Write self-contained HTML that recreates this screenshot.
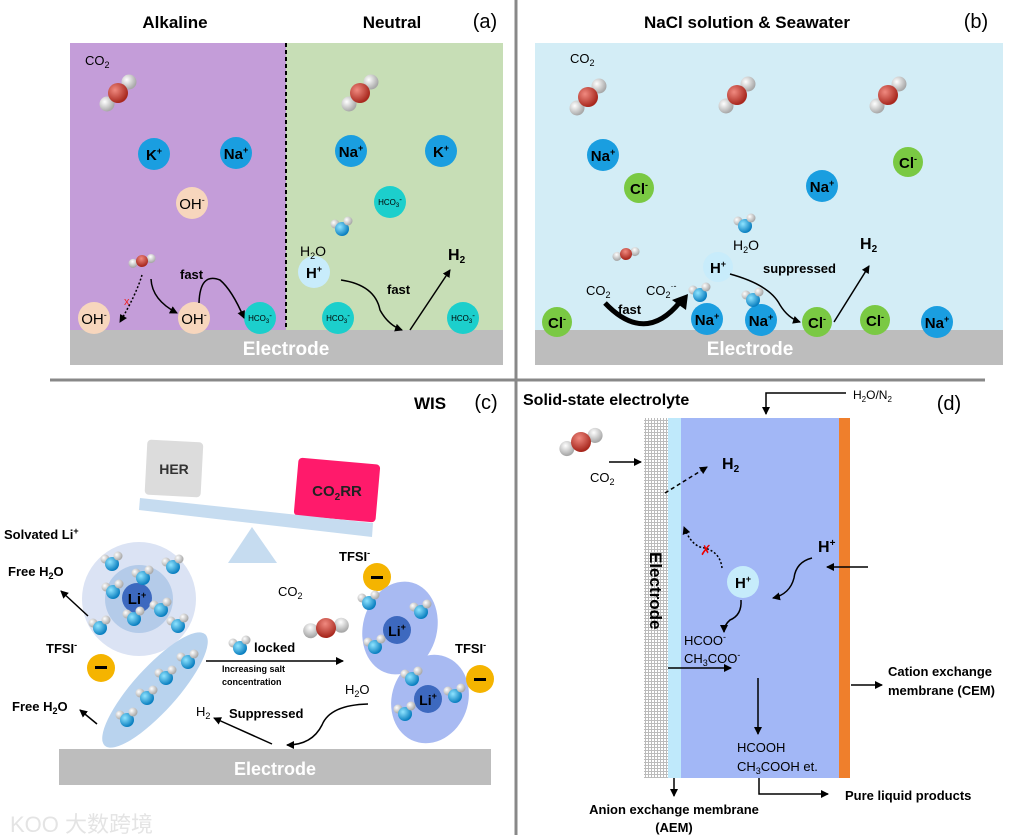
<!DOCTYPE html>
<html><head><meta charset="utf-8"><style>
html,body{margin:0;padding:0;background:#fff;}
svg{display:block;font-family:"Liberation Sans",Arial,sans-serif;}
.b{font-weight:bold;}
</style></head><body>
<svg width="1019" height="839" viewBox="0 0 1019 839" xmlns="http://www.w3.org/2000/svg">
<defs>
<radialGradient id="gr" cx="35%" cy="35%" r="65%"><stop offset="0" stop-color="#f08a80"/><stop offset="1" stop-color="#a8281e"/></radialGradient>
<radialGradient id="gw" cx="35%" cy="35%" r="65%"><stop offset="0" stop-color="#ffffff"/><stop offset="1" stop-color="#a8a8a8"/></radialGradient>
<radialGradient id="gb" cx="35%" cy="35%" r="65%"><stop offset="0" stop-color="#8fe4ff"/><stop offset="1" stop-color="#0a7fc0"/></radialGradient>
<g id="co2"><circle cx="-11" cy="11" r="7.5" fill="url(#gw)"/><circle cx="11" cy="-11" r="7.5" fill="url(#gw)"/><circle cx="0" cy="0" r="10" fill="url(#gr)"/></g>
<g id="h2o"><circle cx="-7" cy="-3" r="4.5" fill="url(#gw)"/><circle cx="0" cy="2" r="7" fill="url(#gb)"/><circle cx="6" cy="-6" r="4.5" fill="url(#gw)"/></g>
<marker id="ar" markerWidth="8" markerHeight="8" refX="7" refY="4" orient="auto" markerUnits="userSpaceOnUse"><path d="M0,0 L8,4 L0,8 Z" fill="#000"/></marker>
</defs>

<line x1="516" y1="0" x2="516" y2="835" stroke="#888" stroke-width="3"/>
<line x1="50" y1="380" x2="985" y2="380" stroke="#888" stroke-width="3"/>

<!-- Panel a -->
<text x="175" y="28" class="b" font-size="17" text-anchor="middle">Alkaline</text>
<text x="392" y="28" class="b" font-size="17" text-anchor="middle">Neutral</text>
<text x="485" y="28" font-size="20" text-anchor="middle">(a)</text>
<rect x="70" y="43" width="216" height="288" fill="#c49dd9"/>
<rect x="286" y="43" width="217" height="288" fill="#c7deb6"/>
<line x1="286" y1="43" x2="286" y2="330" stroke="#000" stroke-width="2" stroke-dasharray="4,3"/>
<rect x="70" y="330" width="433" height="35" fill="#bdbdbd"/>
<text x="286" y="355" class="b" font-size="19" fill="#fff" text-anchor="middle">Electrode</text>
<text x="85" y="65" font-size="13">CO<tspan font-size="9" dy="3">2</tspan></text>
<use href="#co2" x="118" y="93"/>
<use href="#co2" x="360" y="93"/>
<g font-weight="bold" text-anchor="middle">
<circle cx="154" cy="154" r="16" fill="#1a9ee0"/><text x="154" y="160" font-size="15">K<tspan font-size="9" dy="-6">+</tspan></text>
<circle cx="236" cy="153" r="16" fill="#1a9ee0"/><text x="236" y="159" font-size="15">Na<tspan font-size="9" dy="-6">+</tspan></text>
<circle cx="192" cy="203" r="16" fill="#f7d6bd"/><text x="192" y="209" font-size="15" font-weight="normal">OH<tspan font-size="9" dy="-6">-</tspan></text>
<circle cx="94" cy="318" r="16" fill="#f7d6bd"/><text x="94" y="324" font-size="15" font-weight="normal">OH<tspan font-size="9" dy="-6">-</tspan></text>
<circle cx="194" cy="318" r="16" fill="#f7d6bd"/><text x="194" y="324" font-size="15" font-weight="normal">OH<tspan font-size="9" dy="-6">-</tspan></text>
<circle cx="260" cy="318" r="16" fill="#1ccfcc"/><text x="260" y="321" font-size="8" font-weight="normal">HCO<tspan font-size="6" dy="2">3</tspan><tspan dy="-5">-</tspan></text>
<circle cx="351" cy="151" r="16" fill="#1a9ee0"/><text x="351" y="157" font-size="15">Na<tspan font-size="9" dy="-6">+</tspan></text>
<circle cx="441" cy="151" r="16" fill="#1a9ee0"/><text x="441" y="157" font-size="15">K<tspan font-size="9" dy="-6">+</tspan></text>
<circle cx="390" cy="202" r="16" fill="#1ccfcc"/><text x="390" y="205" font-size="8" font-weight="normal">HCO<tspan font-size="6" dy="2">3</tspan><tspan dy="-5">-</tspan></text>
<circle cx="338" cy="318" r="16" fill="#1ccfcc"/><text x="338" y="321" font-size="8" font-weight="normal">HCO<tspan font-size="6" dy="2">3</tspan><tspan dy="-5">-</tspan></text>
<circle cx="463" cy="318" r="16" fill="#1ccfcc"/><text x="463" y="321" font-size="8" font-weight="normal">HCO<tspan font-size="6" dy="2">3</tspan><tspan dy="-5">-</tspan></text>
<circle cx="314" cy="272" r="16" fill="#c8ecfb"/><text x="314" y="278" font-size="15">H<tspan font-size="9" dy="-6">+</tspan></text>
</g>
<g transform="translate(142,261) scale(0.6) rotate(30)"><use href="#co2"/></g>
<use href="#h2o" x="342" y="227"/>
<text x="300" y="256" font-size="14">H<tspan font-size="9" dy="3">2</tspan><tspan dy="-3">O</tspan></text>
<text x="180" y="279" class="b" font-size="13">fast</text>
<text x="387" y="294" class="b" font-size="13">fast</text>
<text x="448" y="260" class="b" font-size="16">H<tspan font-size="10" dy="3">2</tspan></text>
<path d="M142,275 Q136,295 120,322" fill="none" stroke="#000" stroke-width="1.5" stroke-dasharray="2,2" marker-end="url(#ar)"/>
<path d="M151,279 Q152,300 177,313" fill="none" stroke="#000" stroke-width="1.5" marker-end="url(#ar)"/>
<path d="M199,303 Q200,272 220,280 Q232,290 244,318" fill="none" stroke="#000" stroke-width="1.5" marker-end="url(#ar)"/>
<path d="M341,280 Q375,285 380,310 Q388,325 402,330" fill="none" stroke="#000" stroke-width="1.5" marker-end="url(#ar)"/>
<line x1="410" y1="330" x2="450" y2="270" stroke="#000" stroke-width="1.5" marker-end="url(#ar)"/>
<text x="124" y="305" fill="#e22" font-size="11">x</text>

<!-- Panel b -->
<text x="747" y="28" class="b" font-size="17" text-anchor="middle">NaCl solution &amp; Seawater</text>
<text x="976" y="28" font-size="20" text-anchor="middle">(b)</text>
<rect x="535" y="43" width="468" height="288" fill="#d3edf6"/>
<rect x="535" y="330" width="468" height="35" fill="#bdbdbd"/>
<text x="750" y="355" class="b" font-size="19" fill="#fff" text-anchor="middle">Electrode</text>
<text x="570" y="63" font-size="13">CO<tspan font-size="9" dy="3">2</tspan></text>
<use href="#co2" x="588" y="97"/><use href="#co2" x="737" y="95"/><use href="#co2" x="888" y="95"/>
<g font-weight="bold" text-anchor="middle">
<circle cx="603" cy="155" r="16" fill="#1a9ee0"/><text x="603" y="161" font-size="15">Na<tspan font-size="9" dy="-6">+</tspan></text>
<circle cx="639" cy="188" r="15" fill="#7ac943"/><text x="639" y="194" font-size="15">Cl<tspan font-size="9" dy="-6">-</tspan></text>
<circle cx="822" cy="186" r="16" fill="#1a9ee0"/><text x="822" y="192" font-size="15">Na<tspan font-size="9" dy="-6">+</tspan></text>
<circle cx="908" cy="162" r="15" fill="#7ac943"/><text x="908" y="168" font-size="15">Cl<tspan font-size="9" dy="-6">-</tspan></text>
<circle cx="557" cy="322" r="15" fill="#7ac943"/><text x="557" y="328" font-size="15">Cl<tspan font-size="9" dy="-6">-</tspan></text>
<circle cx="707" cy="319" r="16" fill="#1a9ee0"/><text x="707" y="325" font-size="15">Na<tspan font-size="9" dy="-6">+</tspan></text>
<circle cx="761" cy="320" r="16" fill="#1a9ee0"/><text x="761" y="326" font-size="15">Na<tspan font-size="9" dy="-6">+</tspan></text>
<circle cx="817" cy="322" r="15" fill="#7ac943"/><text x="817" y="328" font-size="15">Cl<tspan font-size="9" dy="-6">-</tspan></text>
<circle cx="875" cy="320" r="15" fill="#7ac943"/><text x="875" y="326" font-size="15">Cl<tspan font-size="9" dy="-6">-</tspan></text>
<circle cx="937" cy="322" r="16" fill="#1a9ee0"/><text x="937" y="328" font-size="15">Na<tspan font-size="9" dy="-6">+</tspan></text>
<circle cx="718" cy="267" r="15" fill="#c8ecfb"/><text x="718" y="273" font-size="15">H<tspan font-size="9" dy="-6">+</tspan></text>
</g>
<g transform="translate(626,254) scale(0.6) rotate(30)"><use href="#co2"/></g>
<use href="#h2o" x="745" y="224"/><use href="#h2o" x="700" y="293"/><use href="#h2o" x="753" y="298"/>
<text x="733" y="250" font-size="14">H<tspan font-size="9" dy="3">2</tspan><tspan dy="-3">O</tspan></text>
<text x="763" y="273" class="b" font-size="13">suppressed</text>
<text x="860" y="249" class="b" font-size="16">H<tspan font-size="10" dy="3">2</tspan></text>
<text x="586" y="295" font-size="13">CO<tspan font-size="9" dy="3">2</tspan></text>
<text x="646" y="295" font-size="13">CO<tspan font-size="9" dy="3">2</tspan><tspan font-size="9" dy="-9">·-</tspan></text>
<text x="618" y="314" class="b" font-size="13">fast</text>
<path d="M605,303 Q645,345 680,302" fill="none" stroke="#000" stroke-width="5"/>
<path d="M672,300 L688,294 L686,310 Z" fill="#000"/>
<path d="M730,274 Q770,285 780,305 Q788,318 800,322" fill="none" stroke="#000" stroke-width="1.5" marker-end="url(#ar)"/>
<line x1="834" y1="322" x2="869" y2="266" stroke="#000" stroke-width="1.5" marker-end="url(#ar)"/>

<!-- Panel c -->
<text x="430" y="409" class="b" font-size="17" text-anchor="middle">WIS</text>
<text x="486" y="409" font-size="20" text-anchor="middle">(c)</text>
<rect x="146" y="441" width="56" height="55" rx="4" fill="#dcdcdc" transform="rotate(3 174 468)"/>
<text x="174" y="474" class="b" font-size="14" text-anchor="middle" fill="#333">HER</text>
<rect x="296" y="461" width="82" height="58" rx="4" fill="#ff1a6b" transform="rotate(5 337 490)"/>
<text x="337" y="496" class="b" font-size="15" text-anchor="middle" fill="#222">CO<tspan font-size="10" dy="4">2</tspan><tspan dy="-4">RR</tspan></text>
<polygon points="140,498 373,523 372,537 139,510" fill="#c6dcf0"/>
<polygon points="228,563 277,563 252,527" fill="#c6dcf0"/>
<text x="4" y="539" class="b" font-size="13">Solvated Li<tspan font-size="9" dy="-5">+</tspan></text>
<circle cx="139" cy="599" r="57" fill="#dbe3f4"/>
<circle cx="139" cy="599" r="34" fill="#b4cbe9"/>
<circle cx="137" cy="598" r="15" fill="#3d69bf"/>
<text x="137" y="604" class="b" font-size="15" fill="#000" text-anchor="middle">Li<tspan font-size="9" dy="-6">+</tspan></text>
<ellipse cx="155" cy="690" rx="75" ry="22" fill="#b9d3ee" transform="rotate(-48 155 690)"/>
<g><use href="#h2o" x="112" y="562"/><use href="#h2o" x="143" y="576"/><use href="#h2o" x="113" y="590"/><use href="#h2o" x="173" y="565"/><use href="#h2o" x="161" y="608"/><use href="#h2o" x="134" y="617"/><use href="#h2o" x="100" y="626"/><use href="#h2o" x="178" y="624"/>
<use href="#h2o" x="188" y="660"/><use href="#h2o" x="166" y="676"/><use href="#h2o" x="147" y="696"/><use href="#h2o" x="127" y="718"/>
<use href="#h2o" x="240" y="646"/></g>
<text x="8" y="576" class="b" font-size="13">Free H<tspan font-size="9" dy="3">2</tspan><tspan dy="-3">O</tspan></text>
<line x1="88" y1="616" x2="61" y2="591" stroke="#000" stroke-width="1.5" marker-end="url(#ar)"/>
<text x="12" y="711" class="b" font-size="13">Free H<tspan font-size="9" dy="3">2</tspan><tspan dy="-3">O</tspan></text>
<line x1="97" y1="724" x2="80" y2="710" stroke="#000" stroke-width="1.5" marker-end="url(#ar)"/>
<text x="46" y="653" class="b" font-size="13">TFSI<tspan font-size="9" dy="-5">-</tspan></text>
<circle cx="101" cy="668" r="14" fill="#f5b400"/><rect x="95" y="666" width="12" height="3" fill="#000"/>
<text x="254" y="652" class="b" font-size="13">locked</text>
<line x1="206" y1="661" x2="343" y2="661" stroke="#000" stroke-width="1.5" marker-end="url(#ar)"/>
<text x="222" y="672" class="b" font-size="9">Increasing salt</text>
<text x="222" y="685" class="b" font-size="9">concentration</text>
<text x="278" y="596" font-size="13">CO<tspan font-size="9" dy="3">2</tspan></text>
<use href="#co2" x="326" y="628" transform="rotate(35 326 628)"/>
<text x="339" y="561" class="b" font-size="13">TFSI<tspan font-size="9" dy="-5">-</tspan></text>
<circle cx="377" cy="577" r="14" fill="#f5b400"/><rect x="371" y="576" width="12" height="3" fill="#000"/>
<ellipse cx="400" cy="628" rx="37" ry="47" fill="#a8baf2" transform="rotate(15 400 628)"/>
<ellipse cx="430" cy="699" rx="38" ry="45" fill="#a8baf2" transform="rotate(20 430 699)"/>
<circle cx="397" cy="630" r="14" fill="#3d69bf"/><text x="397" y="636" class="b" font-size="14" text-anchor="middle">Li<tspan font-size="9" dy="-6">+</tspan></text>
<circle cx="428" cy="699" r="14" fill="#3d69bf"/><text x="428" y="705" class="b" font-size="14" text-anchor="middle">Li<tspan font-size="9" dy="-6">+</tspan></text>
<use href="#h2o" x="369" y="601"/><use href="#h2o" x="421" y="610"/><use href="#h2o" x="375" y="645"/><use href="#h2o" x="412" y="677"/><use href="#h2o" x="455" y="694"/><use href="#h2o" x="405" y="712"/>
<text x="455" y="653" class="b" font-size="13">TFSI<tspan font-size="9" dy="-5">-</tspan></text>
<circle cx="480" cy="679" r="14" fill="#f5b400"/><rect x="474" y="678" width="12" height="3" fill="#000"/>
<text x="345" y="694" font-size="13">H<tspan font-size="9" dy="3">2</tspan><tspan dy="-3">O</tspan></text>
<text x="196" y="716" font-size="13">H<tspan font-size="9" dy="3">2</tspan></text>
<text x="229" y="718" class="b" font-size="13">Suppressed</text>
<line x1="272" y1="744" x2="214" y2="718" stroke="#000" stroke-width="1.5" marker-end="url(#ar)"/>
<path d="M368,704 Q330,705 322,725 Q312,745 287,745" fill="none" stroke="#000" stroke-width="1.5" marker-end="url(#ar)"/>
<rect x="59" y="749" width="432" height="36" fill="#bdbdbd"/>
<text x="275" y="775" class="b" font-size="18" fill="#fff" text-anchor="middle">Electrode</text>
<text x="10" y="832" font-size="22" fill="#e4e4e4" font-family="'Liberation Sans','Noto Sans CJK SC',sans-serif">KOO 大数跨境</text>

<!-- Panel d -->
<text x="523" y="405" class="b" font-size="16">Solid-state electrolyte</text>
<text x="853" y="399" font-size="12">H<tspan font-size="8" dy="3">2</tspan><tspan dy="-3">O/N</tspan><tspan font-size="8" dy="3">2</tspan></text>
<text x="949" y="410" font-size="20" text-anchor="middle">(d)</text>
<polyline points="846,393 766,393 766,414" fill="none" stroke="#000" stroke-width="1.5" marker-end="url(#ar)"/>
<defs><pattern id="mesh" width="3" height="3" patternUnits="userSpaceOnUse"><rect width="3" height="3" fill="#fff"/><path d="M0,0.5H3M0.5,0V3" stroke="#bbb" stroke-width="1"/></pattern></defs>
<rect x="644" y="418" width="24" height="360" fill="url(#mesh)"/>
<rect x="668" y="418" width="13" height="360" fill="#bfe9fb"/>
<rect x="681" y="418" width="158" height="360" fill="#a2b7f6"/>
<rect x="839" y="418" width="11" height="360" fill="#ef7f2c"/>
<use href="#co2" x="581" y="442" transform="rotate(20 581 442)"/>
<text x="590" y="482" font-size="13">CO<tspan font-size="9" dy="3">2</tspan></text>
<line x1="609" y1="462" x2="641" y2="462" stroke="#000" stroke-width="1.5" marker-end="url(#ar)"/>
<text x="722" y="469" class="b" font-size="16">H<tspan font-size="10" dy="3">2</tspan></text>
<line x1="665" y1="493" x2="707" y2="467" stroke="#000" stroke-width="1.5" stroke-dasharray="4,3" marker-end="url(#ar)"/>
<text transform="translate(650,552) rotate(90)" class="b" font-size="17">Electrode</text>
<path d="M722,568 Q720,550 700,547 Q690,543 684,527" fill="none" stroke="#000" stroke-width="1.5" stroke-dasharray="2,2" marker-end="url(#ar)"/>
<text x="700" y="555" fill="#e00" font-size="14">✗</text>
<circle cx="743" cy="582" r="16" fill="#c6ecfb"/>
<text x="743" y="588" class="b" font-size="15" text-anchor="middle">H<tspan font-size="9" dy="-6">+</tspan></text>
<text x="818" y="552" class="b" font-size="16">H<tspan font-size="10" dy="-6">+</tspan></text>
<line x1="868" y1="567" x2="827" y2="567" stroke="#000" stroke-width="1.5" marker-end="url(#ar)"/>
<path d="M812,558 Q796,562 794,578 Q790,594 773,598" fill="none" stroke="#000" stroke-width="1.5" marker-end="url(#ar)"/>
<path d="M741,600 Q742,615 730,620 Q724,625 724,632" fill="none" stroke="#000" stroke-width="1.5" marker-end="url(#ar)"/>
<text x="684" y="645" font-size="13">HCOO<tspan font-size="9" dy="-5">-</tspan></text>
<text x="684" y="663" font-size="13">CH<tspan font-size="9" dy="3">3</tspan><tspan dy="-3">COO</tspan><tspan font-size="9" dy="-5">-</tspan></text>
<line x1="668" y1="668" x2="731" y2="668" stroke="#000" stroke-width="1.5" marker-end="url(#ar)"/>
<line x1="758" y1="678" x2="758" y2="734" stroke="#000" stroke-width="1.5" marker-end="url(#ar)"/>
<text x="737" y="752" font-size="13">HCOOH</text>
<text x="737" y="771" font-size="13">CH<tspan font-size="9" dy="3">3</tspan><tspan dy="-3">COOH et.</tspan></text>
<polyline points="759,778 759,794 828,794" fill="none" stroke="#000" stroke-width="1.5" marker-end="url(#ar)"/>
<text x="845" y="800" class="b" font-size="13">Pure liquid products</text>
<line x1="674" y1="778" x2="674" y2="796" stroke="#000" stroke-width="1.5" marker-end="url(#ar)"/>
<text x="674" y="814" class="b" font-size="13" text-anchor="middle">Anion exchange membrane</text>
<text x="674" y="832" class="b" font-size="13" text-anchor="middle">(AEM)</text>
<line x1="851" y1="685" x2="882" y2="685" stroke="#000" stroke-width="1.5" marker-end="url(#ar)"/>
<text x="888" y="676" class="b" font-size="13">Cation exchange</text>
<text x="888" y="695" class="b" font-size="13">membrane (CEM)</text>
</svg>
</body></html>
